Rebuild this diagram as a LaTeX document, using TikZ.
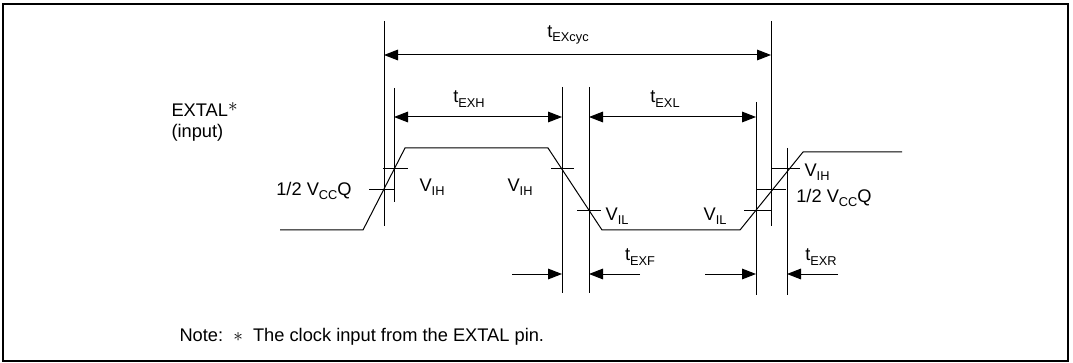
\documentclass[tikz,border=0pt]{standalone}
\usepackage{fontspec}
\setmainfont{Liberation Sans}
\usetikzlibrary{positioning,arrows.meta}
\newcommand{\lowix}[1]{\raisebox{-0.45ex}{\fontsize{9.6}{10}\selectfont #1}}

\begin{document}
\begin{tikzpicture}[x=0.75pt,y=-0.75pt,
			>={Triangle[length=10.5pt,width=8pt]},
			line width=0.75pt,
			every node/.style={
				inner sep=0pt,
				font=\fontsize{13.7}{16}\selectfont
			},
			frame/.style={line width=1.6pt},
			guide/.style={line width=0.75pt},
			tick/.style={line width=0.75pt}]
			
			\useasboundingbox (0,0) rectangle (1073,363);
			
			\draw[frame] (3,4) rectangle (1068,361);
			
			\coordinate (A1) at (384,21); \coordinate (A2) at (384,226);
			\coordinate (B1) at (771,21); \coordinate (B2) at (771,226);
			\coordinate (C1) at (394,88); \coordinate (C2) at (394,202);
			\coordinate (D1) at (562,87); \coordinate (D2) at (562,293);
			\coordinate (E1) at (589,87); \coordinate (E2) at (589,293);
			\coordinate (F1) at (756,102); \coordinate (F2) at (756,295);
			\coordinate (G1) at (787,148); \coordinate (G2) at (787,295);
			
			\foreach \g in {A,B,C,D,E,F,G}
				\draw[guide] (\g1) -- (\g2);
			
			\coordinate (cyc) at (0,55);
			\coordinate (wide) at (0,117);
			\coordinate (edge) at (0,274);
			
			\draw[<->] (A1 |- cyc) -- (B1 |- cyc);
			
			\draw[<->] (C1 |- wide) -- (D1 |- wide);
			
			\draw[<->] (E1 |- wide) -- (F1 |- wide);
			
			\node (tcyc) at (568,35) {t\lowix{EXcyc}};
			
			\node (texh) at (469,99) {t\lowix{EXH}};
			
			\node (texl) at (665,99) {t\lowix{EXL}};
			
			\draw (280,230) -- (363,230) -- (405,148) -- (548,148) -- (602,230)
				-- (740,230) -- (803,152) -- (902,152);
			
			\draw[tick] (369,190) -- (394,190);
			\draw[tick] (383,169) -- (408,169);
			\draw[tick] (551,169) -- (574,169);
			\draw[tick] (577,211) -- (601,211);
			\draw[tick] (744,211) -- (771,211);
			\draw[tick] (756,190) -- (786,190);
			\draw[tick] (771,169) -- (800,169);
			
			\node (half1) at (314,191) {1/2 V\lowix{CC}Q};
			
			\node (vih1) at (432,187) {V\lowix{IH}};
			
			\node (vih2) at (520,187) {V\lowix{IH}};
			
			\node (vil1) at (617,216) {V\lowix{IL}};
			
			\node (vil2) at (715,216) {V\lowix{IL}};
			
			\node (vih3) at (817,172) {V\lowix{IH}};
			
			\node (half2) at (834,198) {1/2 V\lowix{CC}Q};
			
			\coordinate (fin) at (512,274);
			\coordinate (fout) at (640,274);
			\coordinate (rin) at (705,274);
			\coordinate (rout) at (838,274);
			
			\draw[->] (fin) -- (D2 |- edge);
			
			\draw[->] (fout) -- (E2 |- edge);
			
			\draw[->] (rin) -- (F2 |- edge);
			
			\draw[->] (rout) -- (G2 |- edge);
			
			\node (texf) at (640,257) {t\lowix{EXF}};
			
			\node (texr) at (821,257) {t\lowix{EXR}};
			
			\node (extal)[anchor=west,align=left] at (171,122) {EXTAL\raisebox{0.55ex}{$\ast$}\\(input)};
			
			\node (note)[anchor=west] at (179,337) {Note:\ \ $\ast$\ \ The clock input from the EXTAL pin.};
			
		\end{tikzpicture}
\end{document}
